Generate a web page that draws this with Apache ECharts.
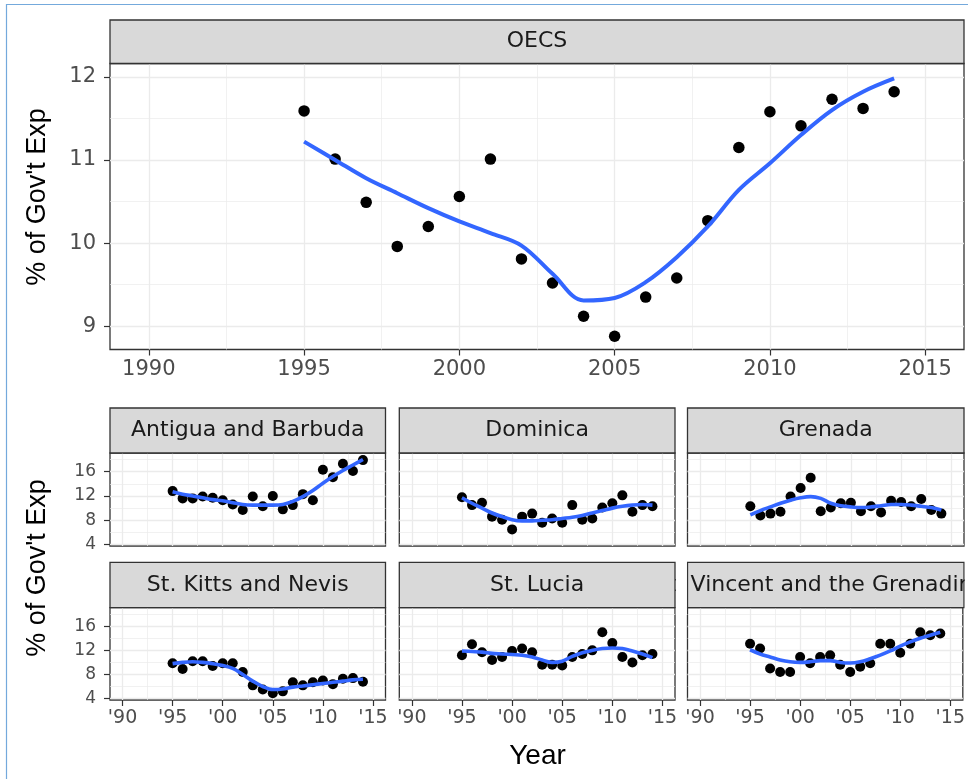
<!DOCTYPE html>
<html><head><meta charset="utf-8">
<script src="https://cdn.jsdelivr.net/npm/echarts@6/dist/echarts.min.js"></script>
<style>html,body{margin:0;padding:0;background:#fff;}#c{width:968px;height:779px;}</style>
</head><body><div id="c"></div>
<script>
// ---------- data ----------
const years = [1995,1996,1997,1998,1999,2000,2001,2002,2003,2004,2005,2006,2007,2008,2009,2010,2011,2012,2013,2014];

const oecsValues      = [11.59,11.01,10.49,9.96,10.20,10.56,11.01,9.81,9.52,9.12,8.88,9.35,9.58,10.27,11.15,11.58,11.41,11.73,11.62,11.82];
const oecsSmooth      = [11.22,11.00,10.78,10.60,10.42,10.26,10.12,9.97,9.63,9.31,9.34,9.53,9.83,10.20,10.64,10.96,11.30,11.60,11.82,11.98];

const antiguaValues   = [12.8,11.6,11.6,11.9,11.7,11.3,10.6,9.7,11.9,10.3,12.0,9.8,10.5,12.3,11.3,16.3,15.1,17.3,16.1,17.9];
const antiguaSmooth   = [12.7,12.3,12.0,11.7,11.4,11.2,10.9,10.6,10.5,10.5,10.5,10.6,11.1,11.9,12.9,14.1,15.2,16.2,17.1,18.0];

const dominicaValues  = [11.8,10.5,10.9,8.6,8.1,6.5,8.6,9.1,7.6,8.3,7.6,10.5,8.1,8.3,10.1,10.8,12.1,9.4,10.5,10.3];
const dominicaSmooth  = [11.7,10.8,10.0,9.2,8.6,8.1,7.9,7.9,8.0,8.1,8.3,8.5,8.8,9.2,9.6,10.0,10.3,10.5,10.6,10.5];

const grenadaValues   = [10.3,8.8,9.1,9.4,11.9,13.3,15.0,9.5,10.1,10.8,10.9,9.5,10.3,9.3,11.2,11.0,10.3,11.5,9.7,9.1];
const grenadaSmooth   = [8.9,9.6,10.2,10.8,11.3,11.7,11.9,11.6,10.8,10.4,10.2,10.1,10.2,10.4,10.6,10.6,10.5,10.3,10.1,9.7];

const stKittsValues   = [9.85,8.9,10.2,10.2,9.4,9.85,9.85,8.4,6.2,5.5,4.9,5.2,6.7,6.2,6.7,7.0,6.4,7.3,7.4,6.8];
const stKittsSmooth   = [9.8,10.0,10.1,10.0,9.8,9.5,9.0,8.0,6.9,6.0,5.5,5.6,5.9,6.1,6.3,6.5,6.7,6.9,7.1,7.2];

const stLuciaValues   = [11.2,13.0,11.7,10.4,10.9,11.9,12.3,11.7,9.6,9.6,9.5,10.9,11.4,12.0,15.0,13.2,10.9,10.0,11.2,11.4];
const stLuciaSmooth   = [11.9,11.8,11.7,11.5,11.4,11.3,11.2,10.9,10.4,10.0,10.2,11.0,11.6,12.0,12.3,12.4,12.3,11.9,11.4,10.8];

const stVincentValues = [13.1,12.3,9.0,8.4,8.4,10.9,9.85,10.9,11.2,9.6,8.4,9.3,9.85,13.1,13.1,11.6,13.1,15.0,14.5,14.8];
const stVincentSmooth = [12.1,11.4,10.9,10.4,10.1,10.0,10.1,10.3,10.3,10.0,9.9,10.1,10.6,11.2,11.9,12.7,13.4,14.0,14.5,15.0];

const facetNames = ["OECS","Antigua and Barbuda","Dominica","Grenada","St. Kitts and Nevis","St. Lucia","St. Vincent and the Grenadines"];

const xTicks = [1990,1995,2000,2005,2010,2015];
const xMinorGrid = [1992.5,1997.5,2002.5,2007.5,2012.5];
const xTickLabelsTop = ["1990","1995","2000","2005","2010","2015"];
const xTickLabelsSmall = ["'90","'95","'00","'05","'10","'15"];
const yTicksTop = [9,10,11,12];
const yMinorTop = [9.5,10.5,11.5];
const yTicksSmall = [4,8,12,16];
const yMinorSmall = [6,10,14,18];

const yTitle = "% of Gov't Exp";
const xTitle = "Year";

// ---------- layout ----------
const X_MIN = 1988.75, X_MAX = 2016.25;
const cols = [{left:110,width:275.5},{left:399.3,width:275.7},{left:687.5,width:276.5}];
const rows = [{stripTop:408,top:453,height:93},{stripTop:562.3,top:607.7,height:92.3}];

const panels = [
  {name:facetNames[0], values:oecsValues, smooth:oecsSmooth, big:true,
   grid:{left:110,top:63.5,width:854,height:286}, stripTop:20,
   yMin:8.72, yMax:12.16, showX:true, showY:true}
];
const smallData = [
  [antiguaValues,antiguaSmooth],[dominicaValues,dominicaSmooth],[grenadaValues,grenadaSmooth],
  [stKittsValues,stKittsSmooth],[stLuciaValues,stLuciaSmooth],[stVincentValues,stVincentSmooth]
];
smallData.forEach((d,k)=>{
  const r = Math.floor(k/3), c = k%3;
  panels.push({name:facetNames[k+1], values:d[0], smooth:d[1], big:false,
    grid:{left:cols[c].left, top:rows[r].top, width:cols[c].width, height:rows[r].height},
    stripTop:rows[r].stripTop, yMin:3.77, yMax:19.07, showX:r===1, showY:c===0, row:r, col:c});
});

const grids=[], xAxes=[], yAxes=[], series=[], graphics=[];
const TICKFONT = 'DejaVu Sans';
const MAJ = {color:'#ebebeb', width:1.3, type:'solid'};
const MIN = {color:'#ebebeb', width:0.7, type:'solid'};

panels.forEach((p,i)=>{
  grids.push({left:p.grid.left, top:p.grid.top, width:p.grid.width, height:p.grid.height,
    show:true, backgroundColor:'#ffffff', borderColor:'#333333', borderWidth:1.3, containLabel:false});
  xAxes.push({gridIndex:i, type:'value', min:X_MIN, max:X_MAX,
    splitLine:{show:false}, axisLine:{show:false,onZero:false},
    axisTick:{show:p.showX, length:6, lineStyle:{color:'#333333',width:1.2}, customValues:xTicks},
    axisLabel:{show:p.showX, customValues:xTicks, color:'#4d4d4d', fontFamily:TICKFONT,
      fontSize:p.big?21:19, margin:p.big?10:9,
      formatter:(v)=>{const idx=xTicks.indexOf(Math.round(v)); return p.big?xTickLabelsTop[idx]:xTickLabelsSmall[idx];}}
  });
  const yt = p.big?yTicksTop:yTicksSmall;
  yAxes.push({gridIndex:i, type:'value', min:p.yMin, max:p.yMax,
    splitLine:{show:false}, axisLine:{show:false,onZero:false},
    axisTick:{show:p.showY, length:6, lineStyle:{color:'#333333',width:1.2}, customValues:yt},
    axisLabel:{show:p.showY, customValues:yt, color:'#4d4d4d', fontFamily:TICKFONT,
      fontSize:p.big?21:17, margin:14, formatter:(v)=>String(Math.round(v))}
  });
  const ymaj = p.big?yTicksTop:yTicksSmall, ymin = p.big?yMinorTop:yMinorSmall;
  const gl = [];
  xMinorGrid.forEach(v=>gl.push({xAxis:v, lineStyle:MIN}));
  ymin.forEach(v=>gl.push({yAxis:v, lineStyle:MIN}));
  xTicks.forEach(v=>gl.push({xAxis:v, lineStyle:MAJ}));
  ymaj.forEach(v=>gl.push({yAxis:v, lineStyle:MAJ}));
  series.push({type:'scatter', xAxisIndex:i, yAxisIndex:i, data:[], silent:true, z:1,
    markLine:{silent:true, z:1, symbol:['none','none'], label:{show:false}, animation:false,
      emphasis:{disabled:true}, data:gl}});
  series.push({type:'scatter', xAxisIndex:i, yAxisIndex:i, z:3, silent:true,
    symbol:'circle', symbolSize:p.big?11.5:10, itemStyle:{color:'#000000', opacity:1},
    data:years.map((y,j)=>[y,p.values[j]])});
  series.push({type:'line', xAxisIndex:i, yAxisIndex:i, z:4, silent:true, smooth:0.35,
    showSymbol:false, symbol:'none', lineStyle:{color:'#3366FF', width:p.big?4:3.6},
    data:years.map((y,j)=>[y,p.smooth[j]])});

  // strip
  const sh = p.grid.top - p.stripTop;
  const clipped = (p.row===1 && p.col===2);
  graphics.push({type:'rect', z: clipped?4:10, shape:{x:p.grid.left, y:p.stripTop, width:p.grid.width, height:sh},
    style:{fill:'#d9d9d9', stroke:'#333333', lineWidth:1.3}});
  graphics.push({type:'text', z: clipped?5:11, x:p.grid.left+p.grid.width/2, y:p.stripTop+sh/2,
    style:{text:p.name, fontFamily:'DejaVu Sans', fontSize:22, fill:'#1a1a1a',
      textAlign:'center', textVerticalAlign:'middle', align:'center', verticalAlign:'middle'}});
});

// cover overflow of clipped strip label (gap between columns and right edge)
graphics.push({type:'rect', z:6, shape:{x:675.8, y:555, width:11.0, height:60}, style:{fill:'#ffffff'}});
graphics.push({type:'rect', z:6, shape:{x:964.8, y:555, width:10, height:60}, style:{fill:'#ffffff'}});

// axis titles
graphics.push({type:'text', z:12, x:38, y:197, rotation:Math.PI/2,
  style:{text:yTitle, fontFamily:'Liberation Sans', fontSize:27, fill:'#000000',
    textAlign:'center', textVerticalAlign:'middle', align:'center', verticalAlign:'middle'}});
graphics.push({type:'text', z:12, x:38, y:568, rotation:Math.PI/2,
  style:{text:yTitle, fontFamily:'Liberation Sans', fontSize:27, fill:'#000000',
    textAlign:'center', textVerticalAlign:'middle', align:'center', verticalAlign:'middle'}});
graphics.push({type:'text', z:12, x:537.5, y:756, 
  style:{text:xTitle, fontFamily:'Liberation Sans', fontSize:28, fill:'#000000',
    textAlign:'center', textVerticalAlign:'middle', align:'center', verticalAlign:'middle'}});

// outer frame
graphics.push({type:'rect', z:20, shape:{x:6.5, y:4.5, width:1000, height:1000},
  style:{fill:'none', stroke:'#74a9dc', lineWidth:1.2}});

const chart = echarts.init(document.getElementById('c'), null, {renderer:'canvas'});
chart.setOption({
  animation:false,
  backgroundColor:'#ffffff',
  grid:grids, xAxis:xAxes, yAxis:yAxes, series:series, graphic:graphics
});
</script>
</body></html>
